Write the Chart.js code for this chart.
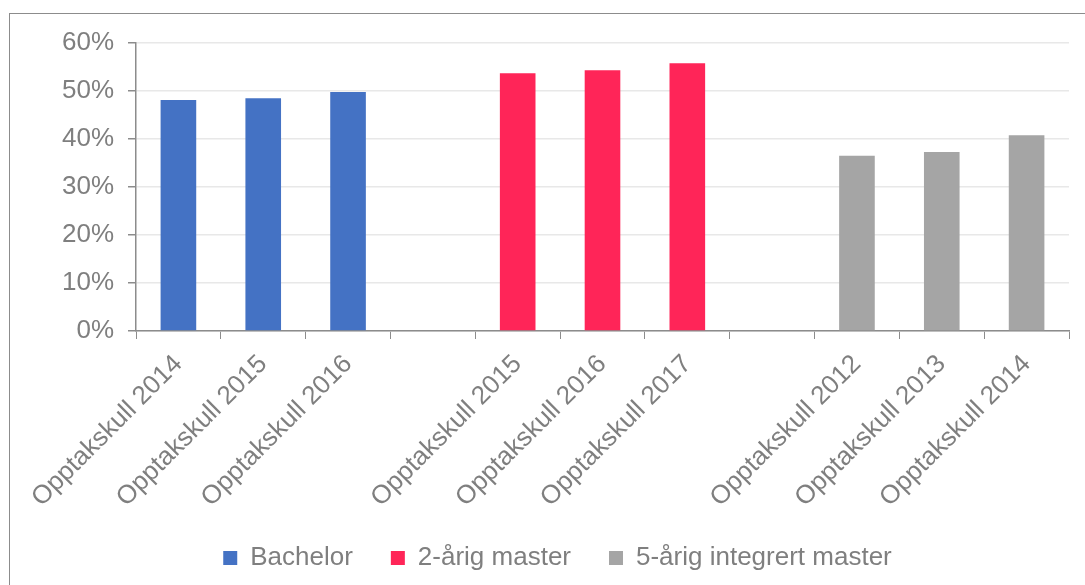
<!DOCTYPE html>
<html>
<head>
<meta charset="utf-8">
<script src="https://cdn.jsdelivr.net/npm/chart.js@4/dist/chart.umd.min.js"></script>
<style>
  html, body { margin: 0; padding: 0; background: #fff; }
  #wrap { position: relative; width: 1085px; height: 585px; overflow: hidden; }
  #frame { position: absolute; left: 9px; top: 13px; width: 1200px; height: 700px; border: 1px solid #8c8c8c; }
  canvas { position: absolute; left: 0; top: 0; }
</style>
</head>
<body>
<div id="wrap">
  <div id="frame"></div>
  <canvas id="myChart" width="1085" height="585"></canvas>
</div>
<script>
// categories (empty ones are the gaps between groups)
var categories = ["Opptakskull 2014", "Opptakskull 2015", "Opptakskull 2016", "",
                  "Opptakskull 2015", "Opptakskull 2016", "Opptakskull 2017", "",
                  "Opptakskull 2012", "Opptakskull 2013", "Opptakskull 2014"];
var bachelor  = [48.1, 48.5, 49.8, null, null, null, null, null, null, null, null];
var master2   = [null, null, null, null, 53.7, 54.3, 55.8, null, null, null, null];
var integrert = [null, null, null, null, null, null, null, null, 36.5, 37.3, 40.8];
var yTicks = [0, 10, 20, 30, 40, 50, 60];

var grey = "#7f7f7f";
var font = { family: "'Liberation Sans', Arial, sans-serif", size: 26 };

// nudge the legend a bit to the right, like the original
var legendShift = {
    id: "legendShift",
    afterLayout: function (chart) {
        chart.legend.left += 23;
        chart.legend.right += 23;
    }
};

var ctx = document.getElementById("myChart").getContext("2d");

var chart = new Chart(ctx, {
    type: "bar",
    data: {
        labels: categories,
        datasets: [
            { label: "Bachelor", data: bachelor, backgroundColor: "#4472c4" },
            { label: "2-årig master", data: master2, backgroundColor: "#ff2558" },
            { label: "5-årig integrert master", data: integrert, backgroundColor: "#a5a5a5" }
        ]
    },
    options: {
        responsive: false,
        animation: false,
        layout: { padding: { left: 0, right: 16, top: 43, bottom: 4 } },
        datasets: { bar: { grouped: false, barPercentage: 0.42, categoryPercentage: 1 } },
        plugins: {
            tooltip: { enabled: false },
            legend: {
                position: "bottom",
                labels: { color: grey, font: font, boxWidth: 14, boxHeight: 14, padding: 38 }
            }
        },
        scales: {
            x: {
                afterFit: function (s) { s.height = 176; },
                grid: { drawOnChartArea: false, tickLength: 8, tickColor: "#8c8c8c", offset: true },
                border: { color: "#8c8c8c", width: 1.5 },
                ticks: { color: grey, font: font, minRotation: 45, maxRotation: 45, autoSkip: false, padding: 10 }
            },
            y: {
                min: 0, max: 60,
                afterFit: function (s) { s.width = 136; },
                afterBuildTicks: function (s) { s.ticks = yTicks.map(function (v) { return { value: v }; }); },
                grid: { color: "#e8e8e8", lineWidth: 1.5, tickLength: 8, tickColor: "#8c8c8c" },
                border: { color: "#8c8c8c", width: 1.5 },
                ticks: { color: grey, font: font, padding: 14, callback: function (v) { return v + "%"; } }
            }
        }
    },
    plugins: [legendShift]
});
</script>
</body>
</html>
